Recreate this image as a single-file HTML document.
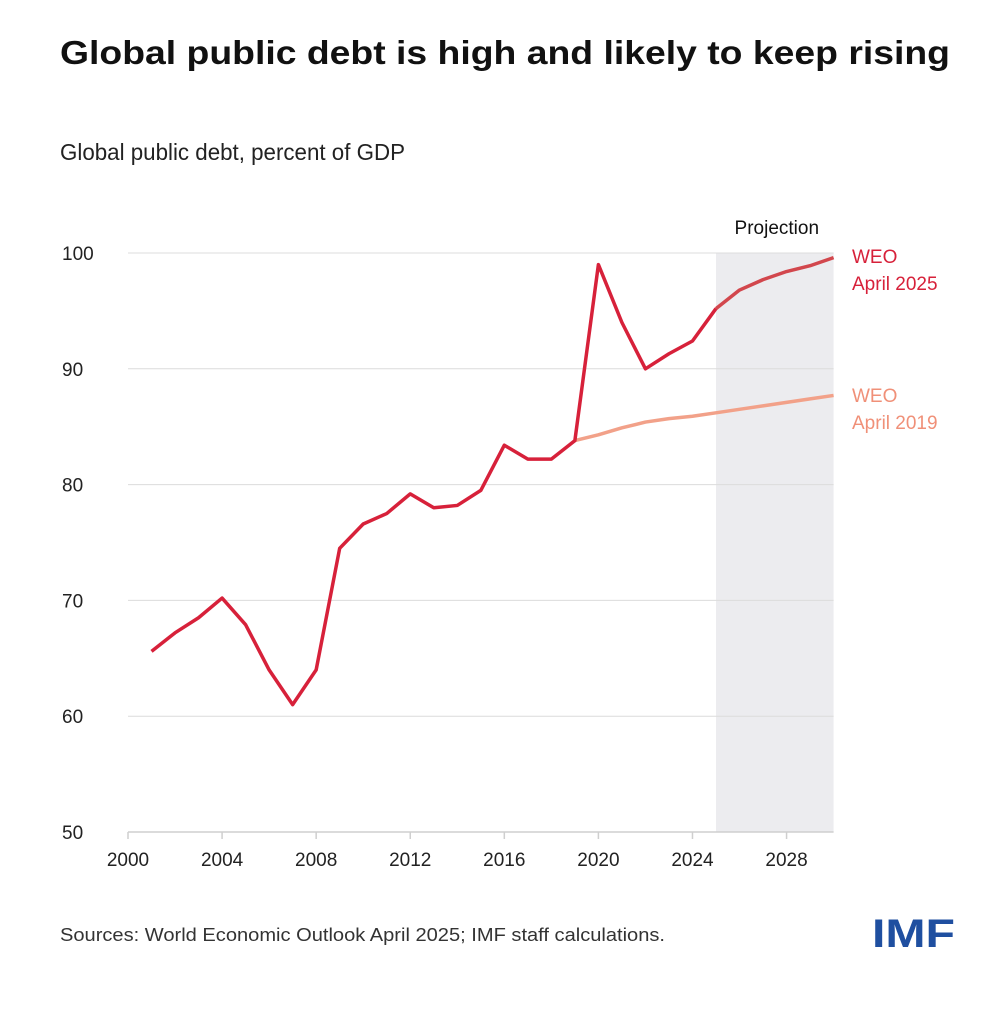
<!DOCTYPE html>
<html><head><meta charset="utf-8"><style>
html,body{margin:0;padding:0;background:#fff;}
body{width:1000px;height:1008px;overflow:hidden;font-family:"Liberation Sans",sans-serif;}
</style></head><body>
<svg width="1000" height="1008" xmlns="http://www.w3.org/2000/svg">
<text x="60" y="64" font-size="33" font-weight="bold" fill="#111" textLength="890" lengthAdjust="spacingAndGlyphs">Global public debt is high and likely to keep rising</text>
<text x="60" y="160" font-size="23" fill="#222" textLength="345" lengthAdjust="spacingAndGlyphs">Global public debt, percent of GDP</text>
<g id="plot"></g>
<text x="60" y="941" font-size="18" fill="#333" textLength="605" lengthAdjust="spacingAndGlyphs">Sources: World Economic Outlook April 2025; IMF staff calculations.</text>
<text x="872" y="947" font-size="40" font-weight="bold" fill="#1f4fa0" textLength="83" lengthAdjust="spacingAndGlyphs">IMF</text>
</svg>
<script>
const years2025 = [2001,2002,2003,2004,2005,2006,2007,2008,2009,2010,2011,2012,2013,2014,2015,2016,2017,2018,2019,2020,2021,2022,2023,2024,2025,2026,2027,2028,2029,2030];
const debt2025 = [65.6,67.2,68.5,70.2,67.9,64.0,61.0,64.0,74.5,76.6,77.5,79.2,78.0,78.2,79.5,83.4,82.2,82.2,83.8,99.0,94.0,90.0,91.3,92.4,95.2,96.8,97.7,98.4,98.9,99.6];
const years2019 = [2019,2020,2021,2022,2023,2024,2025,2026,2027,2028,2029,2030];
const debt2019 = [83.8,84.3,84.9,85.4,85.7,85.9,86.2,86.5,86.8,87.1,87.4,87.7];
const yTicks = [50,60,70,80,90,100];
const xTicks = [2000,2004,2008,2012,2016,2020,2024,2028];
const projStart = 2025, xMin = 2000, xMax = 2030;
const NS="http://www.w3.org/2000/svg";
const X = y => 128 + (y - 2000) * 23.52;
const Y = v => 832 - (v - 50) * 11.58;
const g = document.getElementById('plot');
function mk(t,a){const e=document.createElementNS(NS,t);for(const k in a)e.setAttribute(k,a[k]);g.appendChild(e);return e;}
let r=mk('rect',{x:X(projStart),y:Y(100),width:X(xMax)-X(projStart),height:Y(50)-Y(100),fill:'#ececef'});


let pt=mk('text',{x:(X(projStart)+X(xMax))/2+2,y:Y(100)-19,'font-size':19,'text-anchor':'middle',fill:'#111'});pt.textContent='Projection';


yTicks.forEach(v=>{
  if(v>50){let l=mk('line',{x1:128,x2:X(xMax),y1:Y(v),y2:Y(v),stroke:'#dcdcdc','stroke-width':1});
  
  }
  let t=mk('text',{x:62,y:Y(v)+7,'font-size':19,fill:'#222'});t.textContent=v;
  
  
});
let ax=mk('line',{x1:128,x2:X(xMax),y1:Y(50),y2:Y(50),stroke:'#cfcfcf','stroke-width':1.5});


xTicks.forEach(y=>{
  let tk=mk('line',{x1:X(y),x2:X(y),y1:Y(50),y2:Y(50)+7,stroke:'#cfcfcf','stroke-width':1.5});
  
  
  let t=mk('text',{x:X(y),y:Y(50)+34,'font-size':19,'text-anchor':'middle',fill:'#222'});t.textContent=y;
  
  
});
function pts(xs,vs,f){return xs.map((y,i)=>[y,vs[i]]).filter(f).map(p=>X(p[0])+','+Y(p[1])).join(' ');}
let l19=mk('polyline',{points:pts(years2019,debt2019,()=>true),fill:'none',stroke:'#f2a189','stroke-width':3.5,'stroke-linejoin':'round'});


let lh=mk('polyline',{points:pts(years2025,debt2025,p=>p[0]<=projStart),fill:'none',stroke:'#d7213a','stroke-width':3.5,'stroke-linejoin':'round'});


let lp=mk('polyline',{points:pts(years2025,debt2025,p=>p[0]>=projStart),fill:'none',stroke:'#d2474d','stroke-width':3.5,'stroke-linejoin':'round'});


function lab(txt,y,c,n){let t=mk('text',{x:852,y:y,'font-size':19,fill:c});t.textContent=txt;
  
  }
lab('WEO',263,'#d7213a','legend-2025');lab('April 2025',290,'#d7213a','legend-2025-date');
lab('WEO',402,'#f09078','legend-2019');lab('April 2019',429,'#f09078','legend-2019-date');
</script>
</body></html>
